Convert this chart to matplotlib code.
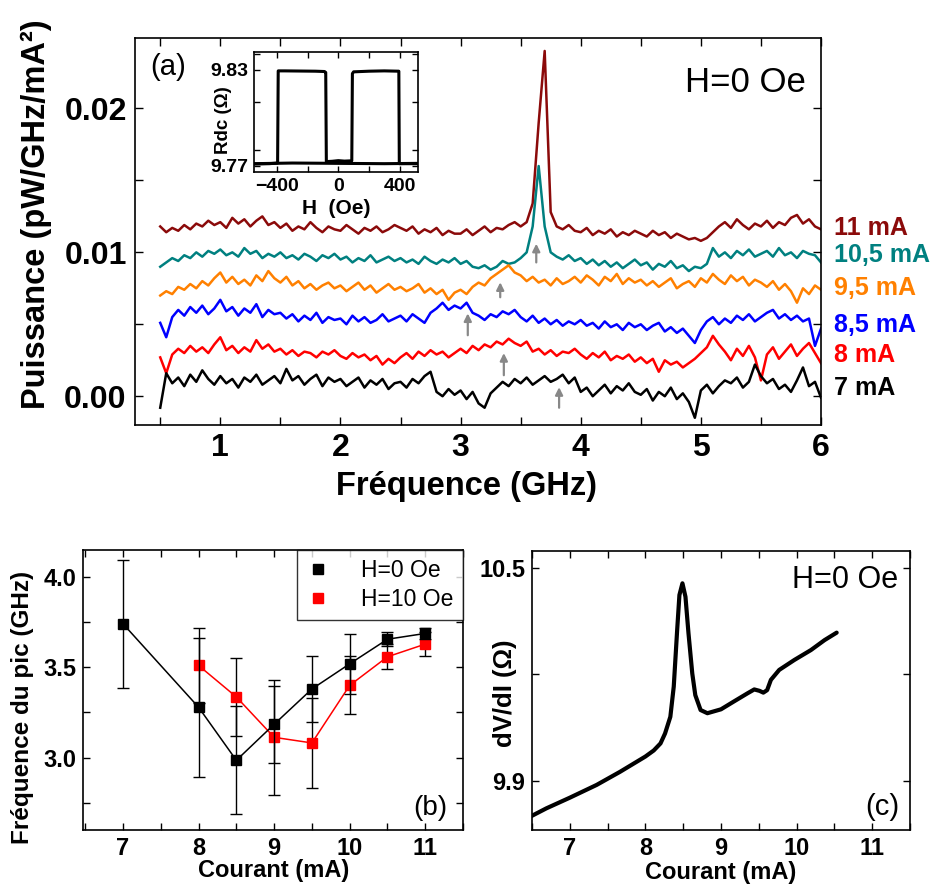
import numpy as np
import matplotlib
matplotlib.use('Agg')
import matplotlib.pyplot as plt
from matplotlib.lines import Line2D
from matplotlib.ticker import MultipleLocator

plt.rcParams['font.family'] = ['Liberation Sans', 'DejaVu Sans']

# ---------------- Panel (a) data : spectra (units of 1e-4 pW/GHz/mA^2) -------------
freq = np.round(np.arange(0.5, 6.0001, 0.05), 2)

p11 = [118, 114, 117, 115, 119, 116, 120, 118, 122, 119,
       121, 117, 124, 120, 123, 118, 122, 125, 119, 121,
       117, 120, 115, 118, 116, 121, 117, 114, 118, 116,
       115, 119, 116, 113, 117, 115, 118, 114, 116, 119,
       117, 115, 118, 113, 116, 114, 117, 112, 115, 113,
       113, 116, 112, 115, 118, 114, 117, 116, 119, 121,
       118, 121, 134, 190, 240, 128, 118, 116, 119, 115,
       114, 117, 112, 115, 113, 116, 111, 114, 112, 115,
       113, 111, 115, 112, 114, 110, 113, 111, 109, 110,
       108, 110, 114, 118, 121, 117, 123, 119, 116, 120,
       118, 122, 117, 121, 119, 124, 126, 120, 123, 118,
       116]
p105 = [90, 93, 96, 94, 98, 96, 100, 97, 101, 99,
        102, 98, 100, 97, 103, 99, 101, 96, 99, 97,
        100, 96, 98, 95, 99, 97, 94, 98, 96, 99,
        95, 97, 93, 96, 94, 98, 93, 95, 97, 94,
        96, 93, 95, 92, 97, 94, 92, 95, 93, 96,
        92, 94, 90, 89, 91, 88, 90, 94, 92, 93,
        96, 100, 118, 160, 118, 100, 97, 95, 98, 94,
        96, 92, 95, 91, 94, 90, 93, 89, 92, 95,
        91, 93, 88, 92, 90, 94, 89, 91, 87, 90,
        89, 92, 103, 97, 100, 96, 101, 98, 102, 97,
        99, 101, 97, 103, 98, 100, 96, 101, 99, 98,
        93]
p95 = [70, 73, 71, 76, 74, 78, 75, 80, 77, 82,
       86, 79, 83, 78, 81, 77, 84, 80, 87, 82,
       79, 83, 77, 80, 75, 78, 74, 77, 79, 75,
       77, 73, 76, 79, 74, 77, 72, 75, 78, 74,
       76, 73, 75, 78, 72, 75, 71, 74, 67, 72,
       74, 71, 76, 79, 77, 82, 85, 88, 91, 86,
       84, 80, 83, 79, 81, 77, 82, 78, 80, 83,
       79, 84, 81, 77, 83, 80, 85, 78, 82, 79,
       81, 77, 80, 76, 79, 82, 75, 78, 80, 76,
       82, 79, 85, 81, 78, 84, 80, 83, 77, 81,
       79, 76, 80, 74, 78, 73, 65, 75, 71, 77,
       74]
p85 = [51, 41, 55, 60, 56, 62, 58, 63, 57, 61,
       67, 59, 62, 56, 61, 58, 64, 55, 60, 57,
       58, 54, 57, 52, 56, 53, 58, 51, 55, 53,
       54, 50, 56, 52, 55, 51, 53, 57, 52, 54,
       56, 52, 57, 54, 51, 58, 61, 65, 60, 63,
       61, 65, 58, 56, 53, 57, 55, 59, 57, 60,
       55, 52, 56, 51, 54, 50, 53, 49, 52, 50,
       53, 49, 51, 47, 52, 48, 50, 46, 51, 48,
       50, 46, 49, 51, 45, 48, 44, 47, 42, 37,
       46, 52, 55, 50, 54, 51, 56, 53, 57, 52,
       55, 58, 60, 54, 57, 53, 56, 52, 54, 35,
       47]
p8 = [27, 16, 29, 33, 30, 35, 31, 34, 30, 36,
      41, 32, 35, 30, 34, 31, 39, 33, 36, 31,
      33, 29, 32, 28, 31, 30, 27, 31, 29, 32,
      28, 26, 30, 27, 29, 25, 28, 22, 26, 23,
      27, 30, 26, 31, 28, 32, 29, 31, 27, 30,
      33, 30, 35, 32, 36, 34, 38, 36, 40, 37,
      35, 38, 31, 33, 29, 32, 28, 31, 30, 33,
      29, 26, 30, 27, 31, 25, 28, 26, 29, 24,
      27, 23, 26, 17, 25, 22, 24, 20, 23, 26,
      30, 34, 42, 36, 31, 25, 33, 28, 35, 27,
      11, 29, 34, 26, 31, 36, 28, 33, 37, 30,
      23]
p7 = [-8, 16, 9, 13, 7, 15, 10, 18, 12, 8,
      14, 9, 12, 6, 13, 10, 15, 8, 11, 14,
      9, 19, 11, 14, 8, 12, 15, 7, 13, 10,
      12, 7, 10, 13, 6, 11, 8, 12, 5, 9,
      10, 6, 12, 9, 14, 17, 3, 0, 5, 1,
      4, -2, 3, -5, -8, 2, 6, 10, 7, 12,
      9, 13, 8, 11, 14, 10, 12, 15, 9, 13,
      3, 6, 0, 4, 8, 2, 7, 4, 9, 3,
      1, 5, -3, 3, 0, 6, -2, 2, -4, -15,
      4, 8, 2, 7, 11, 9, 13, 6, 10, 22,
      14, 9, 12, 5, 8, 3, 11, 20, 7, 10,
      -1]
unit_a = 1e-4

series_labels = ['11 mA', '10,5 mA', '9,5 mA', '8,5 mA', '8 mA', '7 mA']
series_data = [p11, p105, p95, p85, p8, p7]
series_colors = ['#8B0A0A', '#008080', '#FF8000', '#0000FF', '#FF0000', '#000000']
label_y = [0.01167, 0.00979, 0.0075, 0.00493, 0.00285, 0.00056]

# gray arrows marking the peaks (frequency, tail, head)
arrow_f = [3.82, 3.36, 3.06, 3.33, 3.63]
arrow_tail = [-0.0008, 0.00146, 0.00424, 0.00688, 0.0093]
arrow_head = [0.00063, 0.0030, 0.00576, 0.00792, 0.0106]

# inset: R(H) loop
inset_H = [520, 400, 398, 395, 300, 200, 100, 92, 88, 40, 0, -40, -78, -82,
           -90, -150, -250, -350, -392, -396, -450, -550]
inset_R = [9.7712, 9.7712, 9.7712, 9.8290, 9.8292, 9.8290, 9.8286, 9.8275, 9.7730,
           9.7728, 9.7731, 9.7727, 9.7725, 9.8282, 9.8288, 9.8290, 9.8291, 9.8292,
           9.8292, 9.7716, 9.7712, 9.7710]
inset_H2 = [-550, -300, 0, 300, 520]
inset_R2 = [9.7712, 9.7716, 9.7714, 9.7712, 9.7714]

# ---------------- Panel (b) data ----------------
I_b0 = [7, 8, 8.5, 9, 9.5, 10, 10.5, 11]
f_b0 = [3.739, 3.278, 2.985, 3.184, 3.379, 3.518, 3.654, 3.686]
e_b0 = [0.352, 0.385, 0.299, 0.213, 0.180, 0.166, 0.039, 0.030]
I_b10 = [8, 8.5, 9, 9.5, 10, 10.5, 11]
f_b10 = [3.509, 3.335, 3.112, 3.081, 3.399, 3.557, 3.627]
e_b10 = [0.206, 0.213, 0.316, 0.248, 0.160, 0.070, 0.068]

# ---------------- Panel (c) data ----------------
I_c = [6.49, 6.69, 7.0, 7.355, 7.665, 8.0, 8.11, 8.2, 8.26, 8.33, 8.375, 8.42, 8.45,
       8.49, 8.53, 8.57, 8.62, 8.66, 8.73, 8.82, 9.0, 9.17, 9.35, 9.44, 9.51, 9.56,
       9.61, 9.66, 9.77, 9.97, 10.19, 10.37, 10.53]
R_c = [9.800, 9.822, 9.852, 9.888, 9.925, 9.968, 9.985, 10.005, 10.033, 10.080,
       10.165, 10.324, 10.423, 10.456, 10.418, 10.315, 10.202, 10.141, 10.099, 10.090,
       10.101, 10.123, 10.146, 10.157, 10.153, 10.148, 10.155, 10.184, 10.212, 10.240,
       10.268, 10.296, 10.317]

# ---------------- figure ----------------
W, H = 935, 892
fig = plt.figure(figsize=(W / 100, H / 100), dpi=100)


def frac_rect(l, t, r, b):
    return [l / W, 1 - b / H, (r - l) / W, (b - t) / H]


def style_axes(ax, size, pad, length=5):
    for s in ax.spines.values():
        s.set_linewidth(1.2)
    ax.tick_params(which='both', direction='in', top=True, right=True,
                   length=length, width=1.0, labelsize=size, pad=pad)
    for lab in ax.get_xticklabels() + ax.get_yticklabels():
        lab.set_fontweight('bold')


# ---- (a) ----
axa = fig.add_axes(frac_rect(135, 38, 821, 425))
for vals, col in zip(series_data, series_colors):
    axa.plot(freq, np.array(vals) * unit_a, color=col, lw=1.8)
axa.set_xlim(0.29, 6.0)
axa.set_ylim(-0.002, 0.0249)
axa.xaxis.set_major_locator(MultipleLocator(1))
axa.xaxis.set_minor_locator(MultipleLocator(0.5))
axa.yaxis.set_major_locator(MultipleLocator(0.01))
axa.yaxis.set_minor_locator(MultipleLocator(0.005))
axa.set_yticks([0.0, 0.01, 0.02])
axa.set_yticklabels(['0.00', '0.01', '0.02'])
style_axes(axa, 23, 6, length=6)
for lab, yv, col in zip(series_labels, label_y, series_colors):
    axa.text(6.11, yv, lab, color=col, fontsize=18, fontweight='bold',
             ha='left', va='center', clip_on=False)
for fx, ty, hy in zip(arrow_f, arrow_tail, arrow_head):
    axa.annotate('', xy=(fx, hy), xytext=(fx, ty),
                 arrowprops=dict(arrowstyle='-|>', color='#888888', lw=1.6,
                                 mutation_scale=11, shrinkA=0, shrinkB=0))
axa.text(745 / W, 1 - 82 / H, 'H=0 Oe', transform=fig.transFigure, fontsize=25,
         ha='center', va='center')
axa.text(168 / W, 1 - 67 / H, '(a)', transform=fig.transFigure, fontsize=21,
         ha='center', va='center')
fig.text(36 / W, 1 - 214 / H, 'Puissance (pW/GHz/mA²)', rotation=90, fontsize=23.5,
         fontweight='bold', ha='center', va='center')
fig.text(466 / W, 1 - 487 / H, 'Fréquence (GHz)', fontsize=23.5,
         fontweight='bold', ha='center', va='center')

# ---- inset ----
axi = fig.add_axes(frac_rect(254, 52, 418, 172))
axi.plot(inset_H, inset_R, color='black', lw=2.2)
axi.plot(inset_H2, inset_R2, color='black', lw=2.2)
axi.set_xlim(-550, 520)
axi.set_ylim(9.766, 9.841)
axi.set_xticks([-400, 0, 400])
axi.xaxis.set_minor_locator(MultipleLocator(200))
axi.set_yticks([9.77, 9.83])
axi.set_yticklabels(['9.77', '9.83'])
axi.yaxis.set_minor_locator(MultipleLocator(0.03))
style_axes(axi, 14, 4, length=4)
fig.text(223 / W, 1 - 120 / H, 'Rdc (Ω)', rotation=90, fontsize=13.5,
         fontweight='bold', ha='center', va='center')
fig.text(336 / W, 1 - 208 / H, 'H  (Oe)', fontsize=15,
         fontweight='bold', ha='center', va='center')

# ---- (b) ----
axb = fig.add_axes(frac_rect(83, 550, 463, 830))
axb.errorbar(I_b0, f_b0, yerr=e_b0, color='black', lw=1.1, marker='s', ms=7,
             ecolor='black', elinewidth=1.0, capsize=4, capthick=1.0, zorder=3)
axb.errorbar(I_b10, f_b10, yerr=e_b10, color='#FF0000', lw=1.1, marker='s', ms=7,
             ecolor='black', elinewidth=1.0, capsize=4, capthick=1.0, zorder=2)
axb.set_xlim(6.47, 11.5)
axb.set_ylim(2.60, 4.147)
axb.xaxis.set_major_locator(MultipleLocator(1))
axb.xaxis.set_minor_locator(MultipleLocator(0.5))
axb.yaxis.set_major_locator(MultipleLocator(0.5))
axb.yaxis.set_minor_locator(MultipleLocator(0.25))
axb.yaxis.set_major_formatter(matplotlib.ticker.FormatStrFormatter('%.1f'))
style_axes(axb, 17, 5, length=5)
handles = [Line2D([], [], ls='none', marker='s', color='black', ms=7),
           Line2D([], [], ls='none', marker='s', color='#FF0000', ms=7)]
leg = axb.legend(handles, ['H=0 Oe', 'H=10 Oe'], loc='upper right', fontsize=16.5,
                 frameon=True, fancybox=False, edgecolor='black', borderaxespad=0,
                 handlelength=1.0, handletextpad=1.4, borderpad=0.4,
                 labelspacing=0.25)
leg.get_frame().set_linewidth(1.0)
axb.text(430 / W, 1 - 808 / H, '(b)', transform=fig.transFigure, fontsize=20,
         ha='center', va='center')
fig.text(23 / W, 1 - 707 / H, 'Fréquence du pic (GHz)', rotation=90, fontsize=17.5,
         fontweight='bold', ha='center', va='center')
fig.text(274 / W, 1 - 871 / H, 'Courant (mA)', fontsize=17,
         fontweight='bold', ha='center', va='center')

# ---- (c) ----
axc = fig.add_axes(frac_rect(532, 551, 910, 830))
axc.plot(I_c, R_c, color='black', lw=3.0, solid_capstyle='round',
         solid_joinstyle='round')
axc.set_xlim(6.5, 11.5)
axc.set_ylim(9.761, 10.547)
axc.xaxis.set_major_locator(MultipleLocator(1))
axc.xaxis.set_minor_locator(MultipleLocator(0.5))
axc.set_yticks([9.9, 10.5])
axc.set_yticklabels(['9.9', '10.5'])
axc.yaxis.set_minor_locator(MultipleLocator(0.3))
style_axes(axc, 17, 5, length=5)
axc.text(845 / W, 1 - 580 / H, 'H=0 Oe', transform=fig.transFigure, fontsize=22,
         ha='center', va='center')
axc.text(882 / W, 1 - 807 / H, '(c)', transform=fig.transFigure, fontsize=21,
         ha='center', va='center')
fig.text(505 / W, 1 - 693 / H, 'dV/dI (Ω)', rotation=90, fontsize=18.5,
         fontweight='bold', ha='center', va='center')
fig.text(721 / W, 1 - 873 / H, 'Courant (mA)', fontsize=17,
         fontweight='bold', ha='center', va='center')

fig.savefig('out.png', dpi=100)
